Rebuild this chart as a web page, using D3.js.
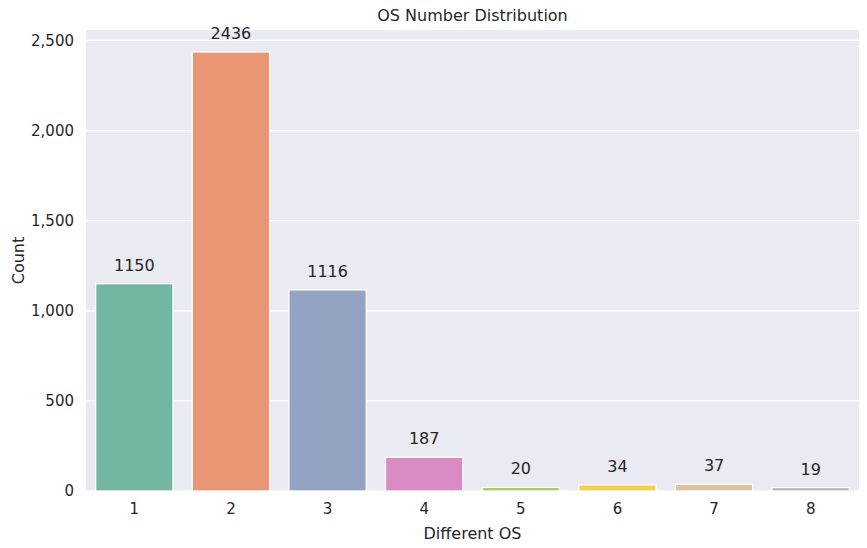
<!DOCTYPE html>
<html><head><meta charset="utf-8">
<script src="https://cdn.jsdelivr.net/npm/d3@7"></script>
<style>body{margin:0;background:#fff;font-family:"DejaVu Sans",sans-serif;}</style>
</head><body><div id="chart"></div>
<script>
const categories = ["1","2","3","4","5","6","7","8"];
const counts = [1150, 2436, 1116, 187, 20, 34, 37, 19];
const colors = ["#72b6a1","#e99675","#95a3c3","#da8bc3","#a4cb64","#f2d04d","#dcc39f","#b3b3b3"];
const yTicks = [0, 500, 1000, 1500, 2000, 2500];

const w = 867, h = 548,
  m = {top: 30, right: 8, bottom: 57, left: 86};

const svg = d3.select("#chart").append("svg").attr("width", w).attr("height", h);

const x = d3.scaleBand().domain(categories).range([m.left, w - m.right]).paddingInner(0.2).paddingOuter(0.1);
const y = d3.scaleLinear().domain([0, 2436 * 1.05]).range([h - m.bottom, m.top]);

svg.append("rect").attr("x", m.left).attr("y", m.top)
  .attr("width", w - m.left - m.right).attr("height", h - m.top - m.bottom).attr("fill", "#eaeaf2");

// grid
svg.append("g").selectAll("line").data(yTicks).join("line")
  .attr("x1", m.left).attr("x2", w - m.right)
  .attr("y1", d => y(d)).attr("y2", d => y(d))
  .attr("stroke", "#fff").attr("stroke-width", 1.3);

// bars
svg.append("g").selectAll("rect").data(counts).join("rect")
  .attr("x", (d, i) => x(categories[i]))
  .attr("width", x.bandwidth())
  .attr("y", d => y(d))
  .attr("height", d => y(0) - y(d))
  .attr("fill", (d, i) => colors[i])
  .attr("stroke", "#fff").attr("stroke-width", 1.3);

// labels
svg.append("g").selectAll("text").data(counts).join("text")
  .attr("x", (d, i) => x(categories[i]) + x.bandwidth() / 2)
  .attr("y", d => y(d) - 13)
  .attr("text-anchor", "middle").attr("font-size", 16).attr("fill", "#262626")
  .text(d => d);

// axes
const yAxis = svg.append("g").attr("transform", `translate(${m.left},0)`)
  .call(d3.axisLeft(y).tickValues(yTicks).tickSize(0).tickPadding(12));
const xAxis = svg.append("g").attr("transform", `translate(0,${h - m.bottom})`)
  .call(d3.axisBottom(x).tickSize(0).tickPadding(12));
[yAxis, xAxis].forEach(a => {
  a.select(".domain").remove();
  a.selectAll("text").attr("font-size", 15).attr("fill", "#262626").attr("font-family", "DejaVu Sans");
});

svg.append("text").attr("x", (m.left + w - m.right) / 2).attr("y", 21)
  .attr("text-anchor", "middle").attr("font-size", 16).attr("fill", "#262626").text("OS Number Distribution");
svg.append("text").attr("x", (m.left + w - m.right) / 2).attr("y", 539)
  .attr("text-anchor", "middle").attr("font-size", 16).attr("fill", "#262626").text("Different OS");
svg.append("text").attr("transform", `translate(24,${(m.top + h - m.bottom) / 2}) rotate(-90)`)
  .attr("text-anchor", "middle").attr("font-size", 16).attr("fill", "#262626").text("Count");
</script></body></html>
